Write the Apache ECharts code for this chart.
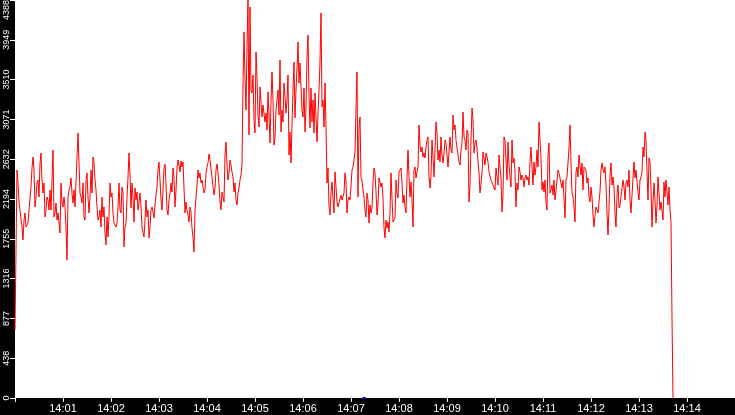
<!DOCTYPE html>
<html>
<head>
<meta charset="utf-8">
<script src="https://cdn.jsdelivr.net/npm/echarts@6/dist/echarts.min.js"></script>
<style>
html,body{margin:0;padding:0;background:#000;}
#chart{width:735px;height:415px;}
</style>
</head>
<body>
<div id="chart"></div>
<script>
// Sampling: one reading every 1.25 s starting at 14:00:00
var startTime = new Date(2020, 0, 1, 14, 0, 0).getTime();
var stepMs = 1250;
var axisMinTime = new Date(2020, 0, 1, 14, 0, 0).getTime();
var axisMaxTime = new Date(2020, 0, 1, 14, 15, 0).getTime();

// Y axis: 10 equal steps up to 4388
var yMax = 4388;
var yStep = 438.8;

var min00 = [750,1632,2514,2370,2161,2073,2095,1885,1742,1962,2040,1885,1874,1929,2073,2205,2326,2536,2657,2514,2106,2216,2370,2403,2216,2591,2701,2403,2260,2370,1996,2073,2216,2183,2073,2293,2073,2403,2734,1996,2040,2150,1962,2040,1929,1819,2370,2150];
var min01 = [2106,2216,2106,1885,1521,2216,2293,2326,2426,2260,2150,2293,2106,2370,2646,2922,2591,2260,2216,2150,2370,1996,1962,2403,2481,2216,2040,2216,2514,2260,2657,2591,2403,2293,2106,1962,1996,2073,1885,2216,1996,2106,1819,1687,1996,1775,1996,2370];
var min02 = [2216,2260,2040,1929,1940,1885,1929,2106,2370,2073,2040,2326,2260,1665,1885,1929,2216,2437,2701,2459,2095,2370,2216,1940,2315,2183,2271,2073,2161,2260,2106,1885,1830,1775,1962,2183,1996,2073,1764,1885,2073,2106,2051,1985,2128,2238,2326,2514];
var min03 = [2602,2403,2183,2073,2293,2525,2580,2370,2073,2018,2183,2260,2370,2271,2536,2437,2106,2293,2536,2624,2569,2492,2613,2547,2602,2315,2040,2161,2073,2018,1940,2106,2051,1874,1775,1610,2073,2205,2348,2514,2426,2481,2370,2403,2326,2260,2293,2481];
var min04 = [2547,2591,2690,2624,2525,2437,2326,2238,2315,2514,2580,2481,2348,2161,2073,2271,2293,2161,2679,2822,2569,2403,2481,2624,2569,2492,2437,2271,2370,2183,2128,2260,2315,2403,2459,2569,3451,4035,3539,3175,3870,4388,2900,4311,3396,3363,3561,3065];
var min05 = [2922,3815,3528,3120,2988,3429,3263,3098,3230,3252,3043,3142,2955,3374,3120,2811,3263,3594,3285,2789,2878,3175,3197,3396,3120,3726,2933,3175,3043,3473,3319,3142,3285,3561,2679,2933,2591,3010,3396,3704,3087,3396,3638,3925,3473,3693,3429,3175];
var min06 = [3098,3418,2933,3208,3749,4002,3341,2977,3418,3043,3285,2922,3363,3374,2822,3120,3396,3704,4245,3208,3285,2988,3473,2977,2370,2536,2106,2018,2260,2381,2205,2040,2492,2326,2161,2106,2150,2128,2238,2183,2216,2260,2481,2381,2040,2183,2216,2183];
var min07 = [2326,2514,2547,2569,2712,3197,3594,2216,2977,3098,2426,2403,2293,2216,2073,1996,2260,2183,1929,2128,2040,2095,2381,2536,2481,2271,2018,2128,2426,2437,2326,2370,2205,1874,1764,1962,1874,1940,1830,2040,2481,2205,1940,1929,1985,2403,2260,2205];
var min08 = [2492,2514,2536,2370,2150,2238,2106,2040,2437,2734,2437,2216,2381,2183,1885,2514,2547,2426,2492,2547,3010,2789,2712,2767,2657,2701,2646,2767,2844,2878,2437,2315,2459,2844,2646,2437,2459,3043,2922,2624,2734,2602,2878,2679,2591,2701,2844,2811];
var min09 = [2789,2547,2712,2878,2734,2701,3120,2955,3010,2844,2822,2679,2602,2569,2734,2811,3153,2878,2844,2734,2955,2922,2161,2348,2844,3197,3065,2701,2811,2844,2756,2602,2492,2260,2370,2481,2712,2734,2569,2701,2657,2602,2492,2514,2403,2381,2348,2370];
var min10 = [2293,2536,2536,2348,2679,2701,2426,2051,2238,2878,2844,2624,2403,2822,2569,2437,2326,2844,2591,2646,2492,2106,2370,2293,2547,2492,2403,2459,2426,2326,2426,2459,2403,2437,2348,2602,2767,2547,2348,2602,2459,2547,2734,2547,3043,2844,2646,2293];
var min11 = [2381,2271,2403,2150,2073,2679,2811,2260,2293,2348,2238,2403,2183,2293,2315,2514,2481,2459,2481,2315,2403,2205,1985,2403,2437,2459,2756,3010,2602,2260,2216,2106,1940,2492,2547,2437,2679,2569,2459,2591,2293,2547,2536,2514,2370,2426,2216,2161];
var min12 = [2326,2216,2018,1885,2018,2106,2095,2040,2161,2271,2514,2591,2514,2481,2547,2348,2040,1797,2095,2459,2591,2348,2437,2326,2040,1885,2238,2348,2095,2128,2216,2315,2403,2326,2183,2370,2403,2326,2514,2183,2040,2238,2426,2602,2426,2514,2381,2271];
var min13 = [2183,2403,2437,2492,2767,2657,2933,2844,2492,2183,2646,2602,2315,1885,2161,2370,2183,1929,2128,2437,2426,2073,2161,2073,1962,2381,2216,2403,2271,2128,2326,2073,1940,882,0];

// Short blue trace near 14:07:15
var blueTimes = [new Date(2020, 0, 1, 14, 7, 14, 600).getTime(), new Date(2020, 0, 1, 14, 7, 18, 400).getTime()];
var blueValues = [0, 0];

var redValues = [].concat(min00, min01, min02, min03, min04, min05, min06, min07, min08, min09, min10, min11, min12, min13);
var redData = redValues.map(function (v, i) { return [startTime + i * stepMs, v]; });
var blueData = blueValues.map(function (v, i) { return [blueTimes[i], v]; });

var chart = echarts.init(document.getElementById('chart'), null, {renderer: 'canvas'});
chart.setOption({
  animation: false,
  backgroundColor: '#000',
  grid: {left: 15, right: 0, top: 0, bottom: 17, show: true, backgroundColor: '#fff', borderWidth: 0, containLabel: false, outerBoundsMode: 'none'},
  xAxis: {
    type: 'time',
    min: axisMinTime,
    max: axisMaxTime,
    minInterval: 60000,
    maxInterval: 60000,
    axisLine: {show: false},
    axisTick: {show: true, length: 4, lineStyle: {color: '#fff', width: 1}},
    splitLine: {show: false},
    axisLabel: {
      color: '#fff',
      fontFamily: 'Liberation Sans',
      fontSize: 11,
      margin: 5,
      showMinLabel: false,
      showMaxLabel: false,
      formatter: function (v) {
        if (v <= axisMinTime || v >= axisMaxTime) { return ''; }
        var d = new Date(v);
        var hh = String(d.getHours()).padStart(2, '0');
        var mm = String(d.getMinutes()).padStart(2, '0');
        return hh + ':' + mm;
      }
    }
  },
  yAxis: {
    type: 'value',
    min: 0,
    max: yMax,
    interval: yStep,
    axisLine: {show: false},
    axisTick: {show: true, length: 5, lineStyle: {color: '#fff', width: 1}},
    splitLine: {show: false},
    axisLabel: {
      color: '#fff',
      fontFamily: 'Liberation Sans',
      fontSize: 9,
      rotate: 90,
      margin: 4,
      alignMaxLabel: 'right',
      formatter: function (v) { return String(Math.floor(v + 0.01)); }
    }
  },
  series: [
    {
      type: 'line',
      data: redData,
      showSymbol: false,
      symbol: 'none',
      lineStyle: {color: '#ff0000', width: 1},
      itemStyle: {color: '#ff0000'}
    },
    {
      type: 'line',
      data: blueData,
      showSymbol: false,
      symbol: 'none',
      lineStyle: {color: '#0000ff', width: 2},
      itemStyle: {color: '#0000ff'}
    }
  ]
});
</script>
</body>
</html>
